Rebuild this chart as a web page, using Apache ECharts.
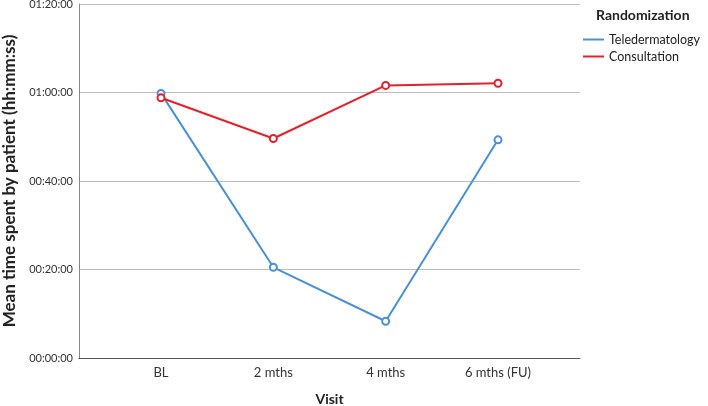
<!DOCTYPE html>
<html><head><meta charset="utf-8">
<script src="https://cdn.jsdelivr.net/npm/echarts@6/dist/echarts.min.js"></script>
<style>html,body{margin:0;padding:0;background:#fff}#c{width:708px;height:406px}</style>
</head><body><div id="c"></div>
<script>
const categories = ['BL', '2 mths', '4 mths', '6 mths (FU)'];
// mean time in minutes
const teledermatology = [59.8, 20.5, 8.3, 49.3];
const consultation = [58.8, 49.6, 61.6, 62.1];
const yTicks = [0, 20, 40, 60, 80];

function fmt(min) {
  const s = Math.round(min * 60);
  const h = Math.floor(s / 3600), m = Math.floor((s % 3600) / 60), sec = s % 60;
  const p = n => String(n).padStart(2, '0');
  return p(h) + ':' + p(m) + ':' + p(sec);
}
const font = 'Lato, "Open Sans", sans-serif';
const chart = echarts.init(document.getElementById('c'));
chart.setOption({
  animation: false,
  textStyle: { fontFamily: font },
  grid: { left: 79, right: 128, top: 4, bottom: 48, containLabel: false, outerBoundsMode: 'none' },
  graphic: [{
    type: 'text', left: 596, top: 8,
    style: { text: 'Randomization', font: 'bold 14px ' + font, fill: '#222' }
  }],
  legend: {
    orient: 'vertical', left: 583, top: 33, padding: 0, itemWidth: 21, itemHeight: 2, itemGap: 4,
    icon: 'rect',
    textStyle: { fontSize: 12.5, color: '#222', fontFamily: font },
    data: ['Teledermatology', 'Consultation']
  },
  xAxis: {
    type: 'value', min: -0.73, max: 3.73,
    name: 'Visit', nameLocation: 'middle', nameGap: 34,
    nameTextStyle: { fontWeight: 'bold', fontSize: 14, color: '#222', fontFamily: font },
    axisLine: { onZero: false, lineStyle: { color: '#555', width: 1 } },
    axisTick: { show: false },
    splitLine: { show: false },
    axisLabel: {
      customValues: [0, 1, 2, 3], margin: 8, fontSize: 13, color: '#333', fontFamily: font,
      formatter: v => categories[Math.round(v)]
    }
  },
  yAxis: {
    type: 'value', min: 0, max: 80, interval: 20,
    name: 'Mean time spent by patient (hh:mm:ss)', nameLocation: 'middle', nameGap: 59,
    nameTextStyle: { fontWeight: 'bold', fontSize: 17, color: '#222', fontFamily: font },
    axisLine: { show: true, onZero: false, lineStyle: { color: '#888', width: 1 } },
    axisTick: { show: false },
    splitLine: { lineStyle: { color: '#bdbdbd', width: 1 } },
    axisLabel: { fontSize: 11, color: '#333', margin: 6, fontFamily: font, formatter: v => fmt(v) }
  },
  series: [
    {
      name: 'Teledermatology', type: 'line', symbol: 'emptyCircle', symbolSize: 7,
      data: teledermatology.map((v, i) => [i, v]),
      lineStyle: { color: '#4a90d2', width: 2 },
      itemStyle: { color: '#4a90d2', borderWidth: 1 }
    },
    {
      name: 'Consultation', type: 'line', symbol: 'emptyCircle', symbolSize: 7,
      data: consultation.map((v, i) => [i, v]),
      lineStyle: { color: '#e3202b', width: 2 },
      itemStyle: { color: '#e3202b', borderWidth: 1 }
    }
  ]
});
</script></body></html>
